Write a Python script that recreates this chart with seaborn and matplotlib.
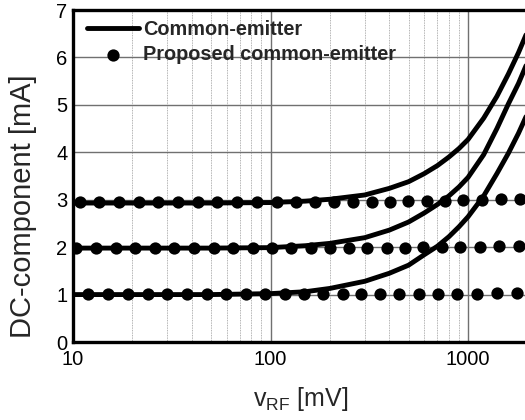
import numpy as np
import pandas as pd
import matplotlib
matplotlib.use("Agg")
import matplotlib.pyplot as plt
import seaborn as sns
from matplotlib.ticker import LogLocator, FixedLocator, NullFormatter

# ---- data ----
ce_x = [10, 50, 100, 150, 200, 300, 400, 500, 600, 700, 800, 900, 1000, 1200, 1400, 1600, 1800, 2000]
ce_3mA = [2.93, 2.93, 2.94, 2.97, 3.01, 3.10, 3.24, 3.38, 3.55, 3.72, 3.90, 4.08, 4.27, 4.72, 5.18, 5.65, 6.10, 6.55]
ce_2mA = [1.98, 1.98, 1.99, 2.03, 2.08, 2.20, 2.36, 2.53, 2.72, 2.90, 3.08, 3.27, 3.47, 3.95, 4.50, 5.02, 5.45, 5.90]
ce_1mA = [1.00, 1.00, 1.02, 1.06, 1.13, 1.28, 1.45, 1.62, 1.84, 2.02, 2.22, 2.43, 2.64, 3.08, 3.55, 3.98, 4.40, 4.82]

p1_x = [11.9, 15.0, 19.0, 24.0, 29.9, 37.8, 47.6, 59.5, 75.2, 93.7, 118.4, 147.9, 184.5,
        232.9, 287.2, 358.3, 447.6, 564.8, 705, 879, 1111, 1403, 1771]
p1_y = [1.01, 1.01, 1.01, 1.01, 1.01, 1.01, 1.01, 1.01, 1.01, 1.01, 1.01, 1.01, 1.01,
        1.01, 1.01, 1.01, 1.01, 1.01, 1.01, 1.02, 1.02, 1.03, 1.04]
p2_x = [10.4, 13.1, 16.5, 20.6, 26.0, 32.4, 41.0, 51.8, 64.6, 81.5, 101.8, 127, 160, 200,
        250, 308, 389, 480, 592, 738, 910, 1150, 1436, 1812]
p2_y = [1.99, 1.99, 1.99, 1.99, 1.99, 1.99, 1.99, 1.99, 1.99, 1.99, 1.99, 1.99, 1.99, 1.99,
        1.99, 1.99, 1.99, 1.99, 2.00, 2.00, 2.00, 2.01, 2.02, 2.03]
p3_x = [10.8, 13.5, 17.1, 21.6, 26.9, 34.0, 43.0, 53.6, 67.6, 85.4, 107.9, 134.6, 168, 210,
        262, 327, 403, 497, 620, 765, 944, 1178, 1469, 1833]
p3_y = [2.95, 2.95, 2.95, 2.95, 2.95, 2.95, 2.95, 2.95, 2.95, 2.95, 2.95, 2.95, 2.95, 2.95,
        2.96, 2.96, 2.96, 2.97, 2.97, 2.98, 2.99, 3.00, 3.01, 3.02]

x_ticks = [10, 100, 1000]
x_ticklabels = ["10", "100", "1000"]
y_ticks = [0, 1, 2, 3, 4, 5, 6, 7]

# ---- styling ----
sns.set_theme(style="white")
plt.rcParams["font.family"] = ["Liberation Sans", "DejaVu Sans"]
plt.rcParams["mathtext.fontset"] = "custom"
plt.rcParams["mathtext.rm"] = "Liberation Sans"

fig = plt.figure(figsize=(5.25, 4.2), dpi=100)
ax = fig.add_axes([73 / 525, 78 / 420, 454.5 / 525, 332 / 420])

# curves
for i, yy in enumerate([ce_3mA, ce_2mA, ce_1mA]):
    sns.lineplot(x=ce_x, y=yy, color="black", linewidth=3.5, ax=ax,
                 label="Common-emitter" if i == 0 else None, zorder=4)

for i, (xx, yy) in enumerate([(p3_x, p3_y), (p2_x, p2_y), (p1_x, p1_y)]):
    sns.scatterplot(x=xx, y=yy, color="black", s=78, linewidth=0, ax=ax,
                    label="Proposed common-emitter" if i == 0 else None, zorder=5)

ax.set_xscale("log")
ax.set_xlim(10, 2000)
ax.set_ylim(0, 7)

ax.xaxis.set_major_locator(FixedLocator(x_ticks))
ax.set_xticklabels(x_ticklabels)
ax.xaxis.set_minor_locator(LogLocator(base=10, subs=np.arange(2, 10)))
ax.xaxis.set_minor_formatter(NullFormatter())
ax.set_yticks(y_ticks)

ax.grid(True, which="major", axis="both", color="#707070", linewidth=1.0, linestyle="-")
ax.grid(True, which="minor", axis="x", color="#999999", linewidth=0.6, linestyle=(0, (1, 1)))
ax.set_axisbelow(True)

ax.tick_params(axis="both", which="both", length=0, labelsize=14.5, colors="black")
ax.tick_params(axis="x", pad=6)
ax.tick_params(axis="y", pad=4)

for s in ["left", "bottom", "top", "right"]:
    ax.spines[s].set_linewidth(2.4)
    ax.spines[s].set_color("black")

ax.set_xlabel(r"$\mathregular{v_{RF}}$ [mV]", fontsize=18, labelpad=11)
ax.set_ylabel("DC-component [mA]", fontsize=21)
ax.yaxis.set_label_coords(-0.08, 0.41)

leg = ax.legend(loc="upper left", bbox_to_anchor=(0.01, 1.0), frameon=False,
                prop={"weight": "bold", "size": 14.3},
                handlelength=2.6, handletextpad=0.2, borderaxespad=0.2, labelspacing=0.3,
                borderpad=0.3)

fig.savefig("out.png", dpi=100)
